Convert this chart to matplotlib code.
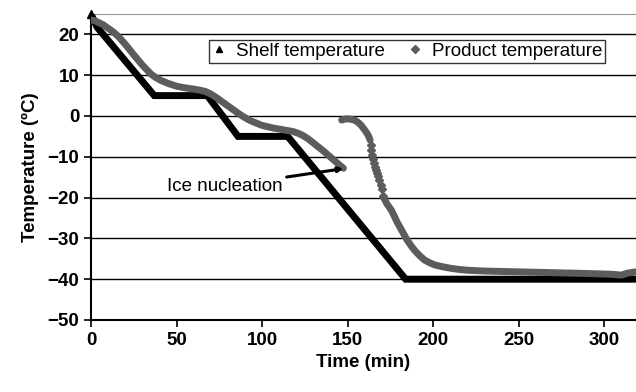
import matplotlib
matplotlib.use('Agg')
import matplotlib.pyplot as plt
from matplotlib.lines import Line2D

plt.rcParams['font.family'] = ['Liberation Sans', 'DejaVu Sans']

# shelf temperature (ramp / hold profile)
shelf_time = [0, 3.5, 37, 68, 86, 115, 184, 318.7]
shelf_temp = [25, 21.8, 5, 5, -5, -5, -40, -40]

# product temperature before ice nucleation
prod_time_1 = [0, 2, 4, 7, 10, 13, 16, 20, 25, 30, 35, 38, 41, 45, 50, 55, 60, 64, 67, 70,
               73, 76, 79, 83, 87, 90, 93, 97, 100, 103, 107, 110, 114, 118, 121, 124, 127,
               130, 133, 136, 139, 142, 145, 147.6]
prod_temp_1 = [23.5, 23.4, 23.0, 22.4, 21.5, 20.6, 19.5, 17.6, 15.0, 12.5, 10.3, 9.4, 8.7, 8.0,
               7.3, 6.9, 6.6, 6.3, 6.0, 5.4, 4.6, 3.7, 2.8, 1.6, 0.4, -0.4, -1.1, -1.8, -2.3,
               -2.6, -3.0, -3.2, -3.5, -3.8, -4.2, -4.8, -5.6, -6.6, -7.6, -8.6, -9.7, -10.8,
               -11.9, -12.8]

# product after nucleation (dense part, up to the sparse drop)
prod_time_2 = [146.6, 148, 150, 152, 154, 156, 158, 160, 161.5, 162.5, 163.2]
prod_temp_2 = [-1.0, -0.8, -0.7, -0.8, -1.0, -1.5, -2.3, -3.4, -4.3, -5.1, -5.9]

# sparse points during the fast drop
prod_time_3 = [163.6, 164.0, 164.3, 164.8, 165.5, 166.2, 166.7, 167.3, 168.0, 168.6, 169.3, 170.0, 170.9]
prod_temp_3 = [-7.0, -8.3, -9.6, -10.6, -11.6, -12.5, -13.2, -14.0, -14.8, -15.7, -16.8, -18.0, -19.5]

# product dense tail
prod_time_4 = [170.9, 173, 175.8, 179, 182.6, 185, 187.5, 190, 192.4, 195, 198.2, 201, 205,
               210, 215, 220, 230, 250, 270, 290, 305, 310, 314, 318.7]
prod_temp_4 = [-19.8, -21.5, -23.2, -26, -28.7, -30.5, -32, -33.3, -34.3, -35.3, -36, -36.5,
               -36.9, -37.3, -37.6, -37.8, -38, -38.2, -38.4, -38.6, -38.8, -39, -38.5, -38.2]

gray = '#5c5c5c'

fig = plt.figure(figsize=(6.36, 3.92), dpi=100)
ax = fig.add_axes([91 / 636, 72 / 392, 545 / 636, 306 / 392])

for y in range(-40, 21, 10):
    ax.axhline(y, color='black', linewidth=1.0, zorder=1)

ax.plot(shelf_time, shelf_temp, color='black', linewidth=5, solid_joinstyle='miter', zorder=3)
ax.plot([0], [25], marker='^', color='black', markersize=6, linestyle='none', zorder=3, clip_on=False)
line_kw = dict(color=gray, linewidth=5, solid_capstyle='round', solid_joinstyle='round', zorder=4)
ax.plot(prod_time_1, prod_temp_1, **line_kw)
ax.plot(prod_time_2, prod_temp_2, **line_kw)
ax.plot(prod_time_3, prod_temp_3, color=gray, marker='D', markersize=4, linestyle='none', zorder=4)
ax.plot(prod_time_4, prod_temp_4, **line_kw)

ax.set_xlim(0, 318.7)
ax.set_ylim(-50, 25)
ax.set_xticks([0, 50, 100, 150, 200, 250, 300])
ax.set_yticks([-50, -40, -30, -20, -10, 0, 10, 20])

ax.spines['right'].set_visible(False)
ax.spines['top'].set_color('#999999')
ax.spines['left'].set_linewidth(1.5)
ax.spines['bottom'].set_linewidth(1.5)
ax.tick_params(direction='out', length=5, width=1.2, labelsize=13.5)
for lab in ax.get_xticklabels() + ax.get_yticklabels():
    lab.set_fontweight('bold')

ax.set_xlabel('Time (min)', fontsize=13.5, fontweight='bold', labelpad=4)
ax.set_ylabel('Temperature (ºC)', fontsize=13.5, fontweight='bold', labelpad=6)

ax.annotate('Ice nucleation', xy=(147.6, -12.9), xytext=(112, -17.2),
            fontsize=13.5, ha='right', va='center',
            arrowprops=dict(arrowstyle='-|>', color='black', linewidth=2.2,
                            mutation_scale=7, shrinkA=1, shrinkB=0),
            zorder=6)

handles = [
    Line2D([], [], color='black', marker='^', markersize=5, linestyle='none'),
    Line2D([], [], color=gray, marker='D', markersize=4, linestyle='none'),
]
leg = ax.legend(handles, ['Shelf temperature', 'Product temperature'], ncol=2,
                loc='upper left', bbox_to_anchor=(209 / 636, 1 - 40 / 392),
                bbox_transform=fig.transFigure, fontsize=13.5, frameon=True,
                fancybox=False, handlelength=0.8, handletextpad=0.5,
                columnspacing=1.2, borderpad=0.15, borderaxespad=0)
leg.get_frame().set_edgecolor('black')
leg.get_frame().set_linewidth(1.0)
leg.set_zorder(7)

fig.savefig('out.png', dpi=100)
